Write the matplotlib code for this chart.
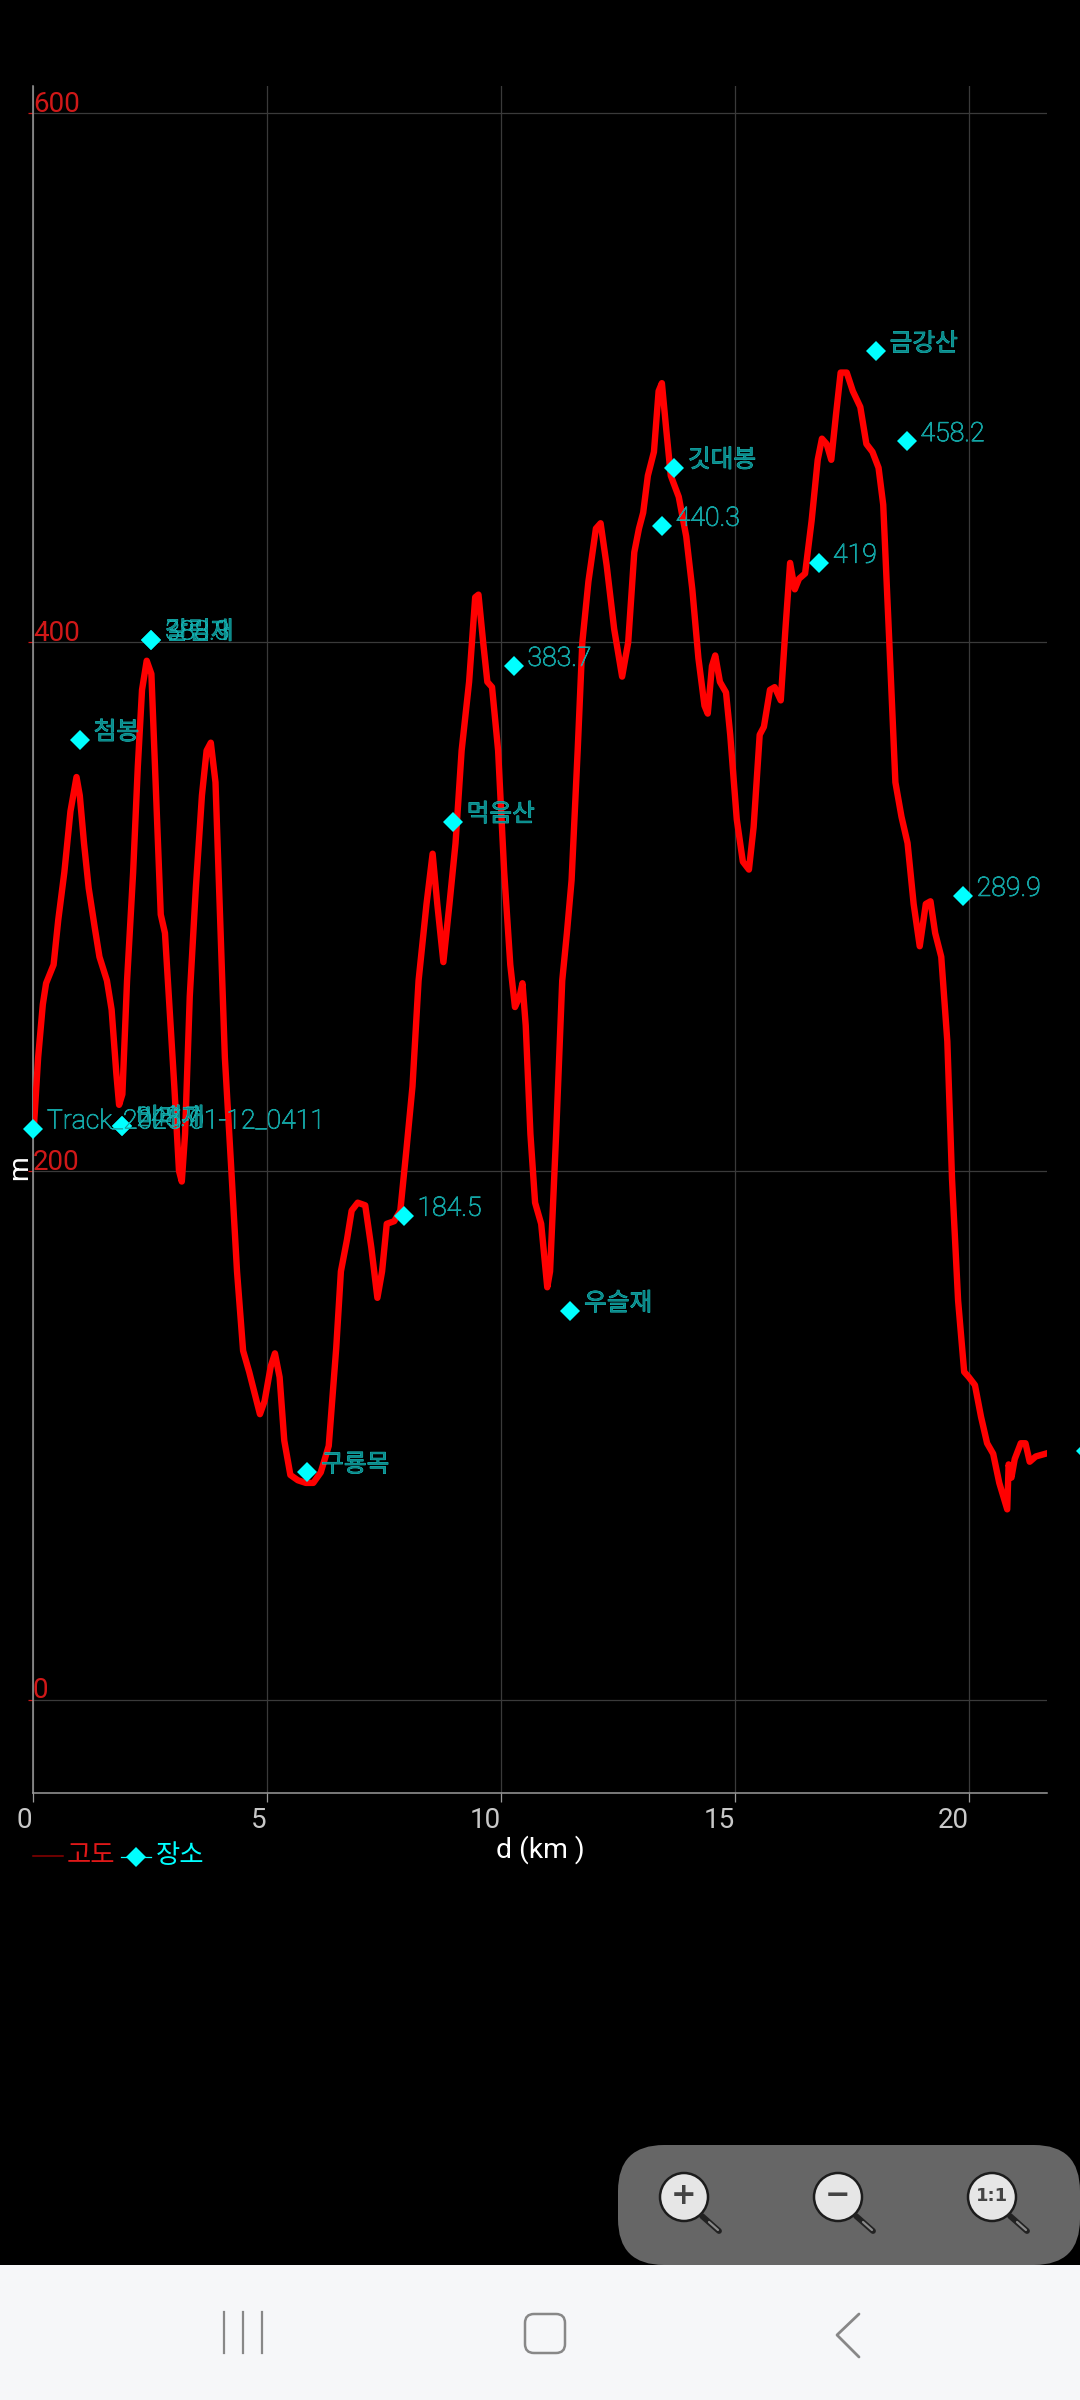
"""
plot.py

Elevation profile screen: altitude against distance on a black background,
with the waypoints and the phone's zoom buttons and navigation bar.
"""

import matplotlib
matplotlib.use("Agg")
import matplotlib.pyplot as plt
import matplotlib.patheffects as pe
from matplotlib.patches import Circle, FancyBboxPatch, Rectangle

# altitude profile
distance_km = [
    0.02, 0.11, 0.21, 0.28, 0.44, 0.54, 0.67, 0.80, 0.93, 1.00, 1.09, 1.19, 1.32, 1.42, 1.58, 1.68,
    1.78, 1.84, 1.91, 2.01, 2.14, 2.24, 2.33, 2.43, 2.53, 2.63, 2.73, 2.82, 2.92, 3.02, 3.12, 3.18,
    3.25, 3.35, 3.48, 3.61, 3.71, 3.80, 3.90, 4.00, 4.10, 4.23, 4.36, 4.49, 4.62, 4.75, 4.85, 4.95,
    5.08, 5.17, 5.27, 5.37, 5.50, 5.66, 5.83, 5.99, 6.15, 6.32, 6.48, 6.58, 6.71, 6.81, 6.94, 7.10,
    7.23, 7.36, 7.46, 7.56, 7.72, 7.85, 7.98, 8.11, 8.24, 8.41, 8.54, 8.64, 8.77, 8.90, 9.03, 9.16,
    9.32, 9.45, 9.52, 9.62, 9.71, 9.81, 9.94, 10.07, 10.20, 10.30, 10.40, 10.46, 10.53, 10.63, 10.73,
    10.86, 10.99, 11.05, 11.18, 11.31, 11.41, 11.51, 11.64, 11.74, 11.87, 12.03, 12.13, 12.26, 12.42,
    12.59, 12.72, 12.85, 12.95, 13.04, 13.14, 13.27, 13.37, 13.44, 13.53, 13.63, 13.80, 13.96, 14.09,
    14.22, 14.35, 14.42, 14.51, 14.58, 14.68, 14.81, 14.90, 15.04, 15.17, 15.30, 15.40, 15.53, 15.62,
    15.75, 15.85, 15.98, 16.08, 16.18, 16.28, 16.37, 16.50, 16.64, 16.77, 16.86, 16.96, 17.06, 17.16,
    17.26, 17.39, 17.52, 17.68, 17.81, 17.94, 18.07, 18.17, 18.30, 18.43, 18.56, 18.69, 18.82, 18.95,
    19.08, 19.18, 19.28, 19.41, 19.54, 19.64, 19.77, 19.90, 20.00, 20.13, 20.26, 20.39, 20.52, 20.65,
    20.82, 20.85, 20.91, 20.98, 21.11, 21.21, 21.30, 21.43, 21.63,
]
altitude_m = [
    217, 243, 263, 271, 278, 295, 313, 336, 349, 342, 324, 307, 292, 281, 272, 261,
    237, 225, 229, 272, 313, 353, 382, 393, 388, 342, 297, 290, 261, 232, 200, 196,
    214, 266, 307, 342, 359, 362, 347, 295, 243, 203, 162, 132, 124, 115, 108, 113,
    126, 131, 122, 98, 85, 83, 82, 82, 86, 96, 133, 162, 174, 185, 188, 187,
    171, 152, 162, 180, 181, 185, 208, 232, 272, 301, 320, 301, 279, 301, 324, 359,
    385, 417, 418, 400, 385, 383, 359, 313, 278, 262, 266, 271, 255, 214, 188,
    180, 156, 162, 214, 272, 290, 310, 359, 400, 423, 443, 445, 429, 405,
    387, 400, 434, 443, 449, 463, 472, 495, 498, 481, 463, 455, 440, 420,
    394, 376, 373, 391, 395, 385, 381, 365, 333, 317, 314, 330, 365, 368,
    382, 383, 378, 405, 430, 420, 424, 426, 446, 469, 477, 475, 469, 486,
    502, 502, 495, 489, 475, 472, 466, 452, 400, 347, 334, 324, 301, 285,
    301, 302, 290, 281, 249, 197, 151, 124, 122, 119, 107, 97, 93, 82,
    72, 89, 84, 91, 97, 97, 90, 92, 93,
]

# waypoints (the last one sits just past the right edge of the screen)
place_km = [0.0, 1.00, 1.91, 1.91, 2.53, 2.53, 5.86, 7.92, 8.97, 10.27, 11.48, 13.44, 13.70, 16.80, 18.01, 18.67, 19.87, 22.51]
place_m = [216, 363, 217, 217, 401, 401, 86, 183, 332, 391, 147, 444, 466, 430, 510, 476, 304, 94]
place_names = ["Track_2025-01-12_0411", "첨봉", "비래재", "248.7", "갈림재", "388.3", "구룡목", "184.5", "먹음산",
               "383.7", "우슬재", "440.3", "깃대봉", "419", "금강산", "458.2", "289.9", ""]

x_ticks = [0, 5, 10, 15, 20]
y_ticks = [0, 200, 400, 600]

FONT = ["Roboto", "Noto Sans CJK KR"]
W, H = 1080, 2400
CYAN = "#00ffff"
RED = "#ff0000"
TICK_RED = "#d01818"
MARKER_SIZE = 9.7


def draw_chart(fig):
    """Draws the altitude curve, the waypoints and the axes."""
    ax = fig.add_axes([33 / W, 1 - 1793 / H, 1014 / W, 1707 / H])
    ax.set_facecolor("black")
    ax.set_xlim(0, 21.67)
    ax.set_ylim(-35.3, 610.4)

    for spine in ["top", "right"]:
        ax.spines[spine].set_visible(False)
    for spine in ["left", "bottom"]:
        ax.spines[spine].set_color("#9a9a9a")
        ax.spines[spine].set_linewidth(1.1)

    ax.grid(True, color="#3a3a3a", linewidth=0.9)
    ax.set_axisbelow(True)
    ax.set_xticks(x_ticks)
    ax.set_yticks(y_ticks)
    ax.set_xticklabels([])
    ax.set_yticklabels([])
    ax.tick_params(axis="x", color="#9a9a9a", length=6.5, width=0.9)
    ax.tick_params(axis="y", color=TICK_RED, length=3.5, width=0.9)

    ax.plot(distance_km, altitude_m, color=RED, linewidth=4.6, solid_joinstyle="round", zorder=3)
    ax.plot(place_km, place_m, linestyle="none", marker="D", markersize=MARKER_SIZE, color=CYAN,
            markeredgewidth=0, clip_on=False, zorder=4)

    # waypoint names: thin cyan outline over a dark teal fill
    for km, m, name in zip(place_km, place_m, place_names):
        size = 19.2 if name.isascii() else 17.8
        ax.annotate(name, (km, m), xytext=(10, 5.5), textcoords="offset points", color="#0b8a8a",
                    fontweight="light", fontsize=size, family=FONT, va="center", ha="left", zorder=5,
                    path_effects=[pe.withStroke(linewidth=0.5, foreground="#20dcdc")])

    # tick labels sit inside the plot, as the app draws them
    for tick in y_ticks:
        ax.annotate(str(tick), (0, tick), xytext=(0, 1), textcoords="offset points", color=TICK_RED,
                    fontsize=20, family=FONT, va="baseline", ha="left")
    for tick in x_ticks:
        ax.annotate(str(tick), (tick, 0), xycoords=("data", "axes fraction"), xytext=(-0.3, -20),
                    textcoords="offset points", color="#c8c8c8", fontsize=20, family=FONT,
                    va="center", ha="right")


def draw_screen(fig):
    """Draws axis titles, the legend, the zoom buttons and the navigation bar in pixel coordinates."""
    ui = fig.add_axes([0, 0, 1, 1], zorder=10)
    ui.set_xlim(0, W)
    ui.set_ylim(H, 0)
    ui.axis("off")
    ui.patch.set_visible(False)

    ui.text(540, 1850, "d (km )", color="white", fontsize=20.4, family=FONT, ha="center", va="center")
    ui.text(20, 1168, "m", color="white", fontsize=20.4, family=FONT, rotation=90, ha="center", va="center")

    # legend
    ui.plot([33, 63], [1856, 1856], color="#8c0000", linewidth=1.1)
    ui.text(67, 1856, "고도", color="#e01818", fontsize=19, family=FONT, ha="left", va="center")
    ui.plot([121, 151], [1857, 1857], color=CYAN, linewidth=0.9)
    ui.plot([136], [1857], marker="D", markersize=MARKER_SIZE, color=CYAN, markeredgewidth=0)
    ui.text(156, 1856, "장소", color=CYAN, fontsize=19, family=FONT, ha="left", va="center")

    # zoom buttons panel and navigation bar
    ui.add_patch(FancyBboxPatch((618, 2145), 462, 120, boxstyle="round,pad=0,rounding_size=46",
                                facecolor="#666666", edgecolor="none"))
    ui.add_patch(Rectangle((0, 2265), W, 135, facecolor="#f6f7f9", edgecolor="none"))

    for cx, sign in [(684, "+"), (838, "−"), (992, "1:1")]:
        ui.plot([cx + 18, cx + 35], [2216, 2231], color="#222222", linewidth=4.2, solid_capstyle="round")
        ui.plot([cx + 25, cx + 34], [2222, 2230], color="#8a8a8a", linewidth=1.6, solid_capstyle="round")
        ui.add_patch(Circle((cx, 2197), 24, facecolor="#e6e6e6", edgecolor="#1c1c1c", linewidth=1.8))
        size = 13 if sign == "1:1" else 22
        ui.text(cx, 2196, sign, color="#444444", fontsize=size, fontweight="bold",
                family="DejaVu Sans", ha="center", va="center")

    for x in [224, 243, 262]:
        ui.plot([x, x], [2312, 2353], color="#888888", linewidth=1.6)
    ui.add_patch(FancyBboxPatch((525, 2314), 40, 39, boxstyle="round,pad=0,rounding_size=9",
                                facecolor="none", edgecolor="#888888", linewidth=1.8))
    ui.plot([859, 837, 859], [2314, 2335, 2357], color="#888888", linewidth=2.0, solid_capstyle="round")


def execute():
    fig = plt.figure(figsize=(W / 100, H / 100), dpi=100, facecolor="black")
    draw_chart(fig)
    draw_screen(fig)
    fig.savefig("out.png", dpi=100, facecolor="black")


execute()
